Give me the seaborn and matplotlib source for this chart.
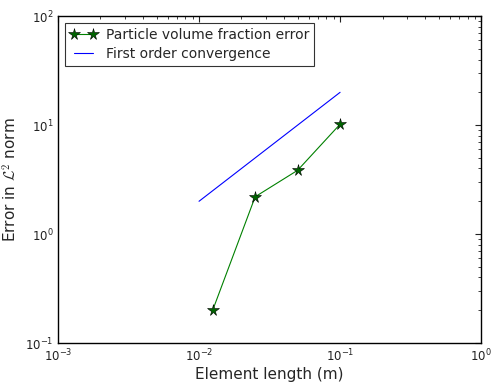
import numpy as np
import pandas as pd
import matplotlib
matplotlib.use('Agg')
import matplotlib.pyplot as plt
import seaborn as sns

# element length (m) and particle volume fraction error
element_length = [0.0125, 0.025, 0.05, 0.1]
fraction_error = [0.2, 2.2, 3.85, 10.2]

# first order reference line
ref_length = [0.01, 0.1]
ref_error = [2.0, 20.0]

sns.set_style('white')
plt.rcParams['font.family'] = ['DejaVu Sans']
plt.rcParams['mathtext.fontset'] = 'cm'
plt.rcParams['xtick.direction'] = 'in'
plt.rcParams['ytick.direction'] = 'in'

df = pd.DataFrame({'h': element_length, 'err': fraction_error})
ref = pd.DataFrame({'h': ref_length, 'err': ref_error})

fig = plt.figure(figsize=(4.91, 3.85), dpi=100)
ax = fig.add_axes([0.118, 0.109, 0.862, 0.849])

sns.lineplot(data=df, x='h', y='err', ax=ax, color='green', linewidth=0.8,
             marker='*', markersize=8.5, markerfacecolor='darkgreen',
             markeredgecolor='black', markeredgewidth=0.4,
             label='Particle volume fraction error')
sns.lineplot(data=ref, x='h', y='err', ax=ax, color='blue', linewidth=0.8,
             label='First order convergence')

ax.set_xscale('log')
ax.set_yscale('log')
ax.set_xlim(1e-3, 1)
ax.set_ylim(1e-1, 1e2)
ax.set_xlabel('Element length (m)', fontsize=11, labelpad=2)
ax.set_ylabel(r'Error in $\mathcal{L}^2$ norm', fontsize=11, labelpad=4)
ax.tick_params(which='both', top=True, right=True, labelsize=8.5, pad=3,
               colors='#222222')
ax.tick_params(which='major', length=4, width=0.8)
ax.tick_params(which='minor', length=2, width=0.6)
for s in ax.spines.values():
    s.set_color('black')
    s.set_linewidth(1)

leg = ax.legend(loc='upper left', numpoints=2, fontsize=10, fancybox=False,
                frameon=True, borderaxespad=0.5, handlelength=2.0,
                borderpad=0.35, labelspacing=0.35, handletextpad=0.6)
leg.get_frame().set_edgecolor('black')
leg.get_frame().set_linewidth(0.8)

fig.savefig('out.png', dpi=100)
